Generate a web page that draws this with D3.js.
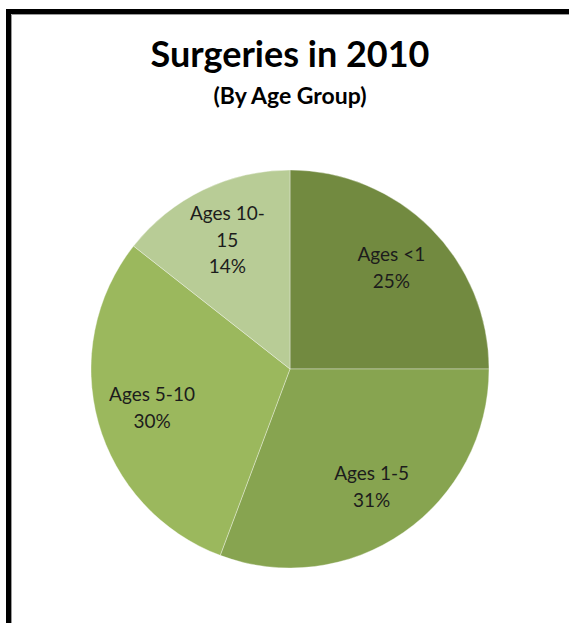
<!DOCTYPE html>
<html>
<head>
<meta charset="utf-8">
<script src="https://cdn.jsdelivr.net/npm/d3@7"></script>
<style>
  body { margin: 0; background: #fff; }
  svg { display: block; }
</style>
</head>
<body>
<div id="chart"></div>
<script>
// data
var categories = ["Ages <1", "Ages 1-5", "Ages 5-10", "Ages 10-15"];
var values = [25, 30.7, 29.9, 14.4];
var colors = ["#728a40", "#87a450", "#9bb85d", "#b8cc96"];
var title = "Surgeries in 2010";
var subtitle = "(By Age Group)";

var width = 569, height = 623;
var cx = 290, cy = 369, radius = 199;

var svg = d3.select("#chart").append("svg")
    .attr("width", width)
    .attr("height", height);

// chart frame (only top/left visible, rest runs off the picture)
svg.append("rect")
    .attr("x", 8.5).attr("y", 11.5)
    .attr("width", 700).attr("height", 800)
    .attr("fill", "none")
    .attr("stroke", "#000")
    .attr("stroke-width", 5);
svg.append("path")
    .attr("d", "M11.5,700V14.5H700")
    .attr("fill", "none")
    .attr("stroke", "#9a9a9a")
    .attr("stroke-width", 1);

svg.append("text")
    .attr("x", cx).attr("y", 67)
    .attr("text-anchor", "middle")
    .attr("font-family", "Lato, sans-serif")
    .attr("font-weight", "bold")
    .attr("font-size", "36px")
    .attr("fill", "#000")
    .text(title);

svg.append("text")
    .attr("x", cx).attr("y", 104)
    .attr("text-anchor", "middle")
    .attr("font-family", "Lato, sans-serif")
    .attr("font-weight", "bold")
    .attr("font-size", "23px")
    .attr("fill", "#000")
    .text(subtitle);

var data = categories.map(function(c, i){ return {name: c, value: values[i], color: colors[i]}; });
var total = d3.sum(values);

var pie = d3.pie().sort(null).value(function(d){ return d.value; });
var arc = d3.arc().innerRadius(0).outerRadius(radius);
var labelArc = d3.arc().innerRadius(0).outerRadius(radius * 1.44);

var g = svg.append("g").attr("transform", "translate(" + cx + "," + cy + ")");

var slices = g.selectAll(".slice")
    .data(pie(data))
    .enter().append("g")
    .attr("class", "slice");

slices.append("path")
    .attr("d", arc)
    .attr("fill", function(d){ return d.data.color; })
    .attr("stroke", "rgba(255,255,255,0.35)")
    .attr("stroke-width", 1);

// narrow slices get their name wrapped after the hyphen, like the original
function labelLines(d) {
  var name = d.data.name;
  var pct = Math.round(d.data.value / total * 100) + "%";
  if (d.data.value / total < 0.2 && name.lastIndexOf("-") > 0) {
    var k = name.lastIndexOf("-") + 1;
    return [name.slice(0, k), name.slice(k), pct];
  }
  return [name, pct];
}

var lineH = 26.5;
slices.append("text")
    .attr("transform", function(d){ return "translate(" + labelArc.centroid(d) + ")"; })
    .attr("text-anchor", "middle")
    .attr("font-family", "Lato, sans-serif")
    .attr("font-size", "19px")
    .attr("fill", "#1c1c1c")
    .each(function(d){
      var lines = labelLines(d);
      var t = d3.select(this);
      var y0 = -(lines.length - 1) * lineH / 2;
      lines.forEach(function(l, i){
        t.append("tspan")
          .attr("x", 0)
          .attr("y", y0 + i * lineH)
          .attr("dy", "0.35em")
          .text(l);
      });
    });
</script>
</body>
</html>
